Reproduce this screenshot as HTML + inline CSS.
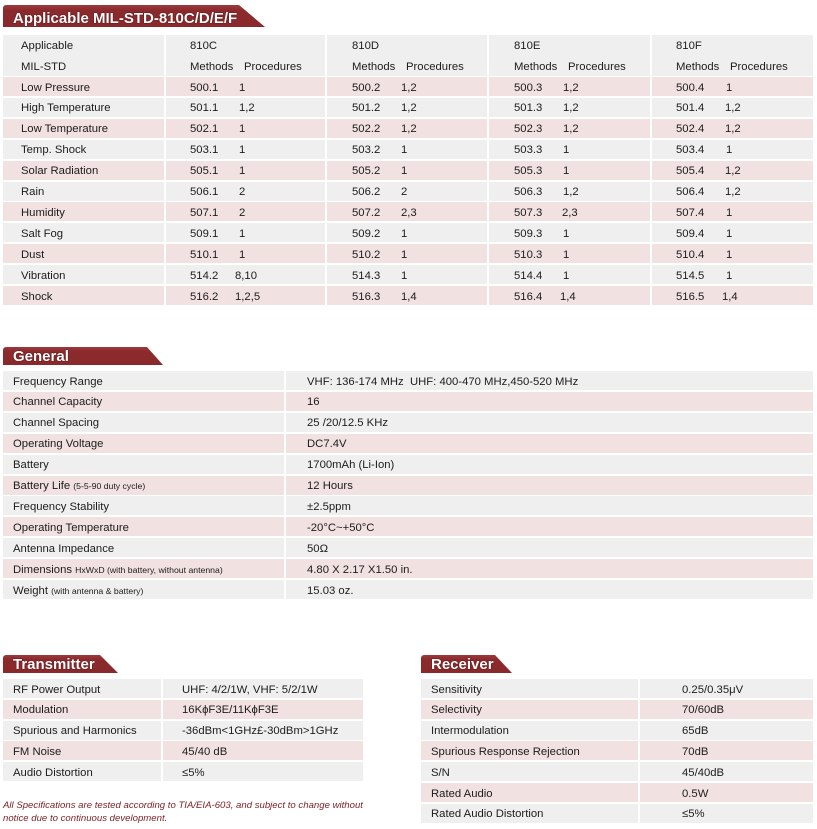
<!DOCTYPE html>
<html><head><meta charset="utf-8">
<style>
*{margin:0;padding:0;box-sizing:border-box}
html,body{width:817px;height:829px;background:#fff;overflow:hidden}
body{position:relative;font-family:"Liberation Sans",Arial,sans-serif;font-size:11.3px;color:#1c1c1c}
.c{position:absolute;height:19px}
.g{background:#efefef}
.p{background:#f1e1e1}
.t{position:absolute;white-space:nowrap;line-height:19px;height:19px;margin-top:1.5px}
.bn{position:absolute;background:linear-gradient(#9c3a3e 0,#8b2a2d 25%,#8a292c 100%);color:#fff;font-weight:bold;font-size:15px;white-space:nowrap;text-shadow:0 0 1px #4a0f12,0 0 1px #4a0f12;border-top-left-radius:3px}
.bn span{position:absolute;left:10px}
.sm{font-size:8.7px}
.fn{position:absolute;left:3px;font-style:italic;color:#7a1f24;font-size:9.6px;white-space:nowrap}
</style></head><body>

<!-- Banner 1 -->
<div class="bn" style="left:3px;top:5px;width:262px;height:22px;clip-path:polygon(0 0,236px 0,262px 22px,0 22px)"><span style="top:4px;line-height:19px">Applicable MIL-STD-810C/D/E/F</span></div>

<!-- Top table header -->
<div class="c g" style="left:3px;top:35px;width:161px;height:41px"></div>
<div class="c g" style="left:166px;top:35px;width:159px;height:41px"></div>
<div class="c g" style="left:327px;top:35px;width:160px;height:41px"></div>
<div class="c g" style="left:489px;top:35px;width:161px;height:41px"></div>
<div class="c g" style="left:652px;top:35px;width:161px;height:41px"></div>
<div class="t" style="left:21px;top:35.5px">Applicable</div>
<div class="t" style="left:21px;top:56.5px">MIL-STD</div>
<div class="t" style="left:190px;top:35.5px">810C</div>
<div class="t" style="left:352px;top:35.5px">810D</div>
<div class="t" style="left:514px;top:35.5px">810E</div>
<div class="t" style="left:676px;top:35.5px">810F</div>
<div class="t" style="left:190px;top:56.5px">Methods</div><div class="t" style="left:244px;top:56.5px">Procedures</div>
<div class="t" style="left:352px;top:56.5px">Methods</div><div class="t" style="left:406px;top:56.5px">Procedures</div>
<div class="t" style="left:514px;top:56.5px">Methods</div><div class="t" style="left:568px;top:56.5px">Procedures</div>
<div class="t" style="left:676px;top:56.5px">Methods</div><div class="t" style="left:730px;top:56.5px">Procedures</div>

<!-- rows -->
<div class="c p" style="left:3px;top:77px;width:161px"></div><div class="c p" style="left:166px;top:77px;width:159px"></div><div class="c p" style="left:327px;top:77px;width:160px"></div><div class="c p" style="left:489px;top:77px;width:161px"></div><div class="c p" style="left:652px;top:77px;width:161px"></div>
<div class="t" style="left:21px;top:77px">Low Pressure</div><div class="t" style="left:190px;top:77px">500.1</div><div class="t" style="left:239px;top:77px">1</div><div class="t" style="left:352px;top:77px">500.2</div><div class="t" style="left:401px;top:77px">1,2</div><div class="t" style="left:514px;top:77px">500.3</div><div class="t" style="left:563px;top:77px">1,2</div><div class="t" style="left:676px;top:77px">500.4</div><div class="t" style="left:726px;top:77px">1</div>

<div class="c g" style="left:3px;top:97.9px;width:161px"></div><div class="c g" style="left:166px;top:97.9px;width:159px"></div><div class="c g" style="left:327px;top:97.9px;width:160px"></div><div class="c g" style="left:489px;top:97.9px;width:161px"></div><div class="c g" style="left:652px;top:97.9px;width:161px"></div>
<div class="t" style="left:21px;top:97.9px">High Temperature</div><div class="t" style="left:190px;top:97.9px">501.1</div><div class="t" style="left:239px;top:97.9px">1,2</div><div class="t" style="left:352px;top:97.9px">501.2</div><div class="t" style="left:401px;top:97.9px">1,2</div><div class="t" style="left:514px;top:97.9px">501.3</div><div class="t" style="left:563px;top:97.9px">1,2</div><div class="t" style="left:676px;top:97.9px">501.4</div><div class="t" style="left:725px;top:97.9px">1,2</div>

<div class="c p" style="left:3px;top:118.8px;width:161px"></div><div class="c p" style="left:166px;top:118.8px;width:159px"></div><div class="c p" style="left:327px;top:118.8px;width:160px"></div><div class="c p" style="left:489px;top:118.8px;width:161px"></div><div class="c p" style="left:652px;top:118.8px;width:161px"></div>
<div class="t" style="left:21px;top:118.8px">Low Temperature</div><div class="t" style="left:190px;top:118.8px">502.1</div><div class="t" style="left:239px;top:118.8px">1</div><div class="t" style="left:352px;top:118.8px">502.2</div><div class="t" style="left:401px;top:118.8px">1,2</div><div class="t" style="left:514px;top:118.8px">502.3</div><div class="t" style="left:563px;top:118.8px">1,2</div><div class="t" style="left:676px;top:118.8px">502.4</div><div class="t" style="left:725px;top:118.8px">1,2</div>

<div class="c g" style="left:3px;top:139.7px;width:161px"></div><div class="c g" style="left:166px;top:139.7px;width:159px"></div><div class="c g" style="left:327px;top:139.7px;width:160px"></div><div class="c g" style="left:489px;top:139.7px;width:161px"></div><div class="c g" style="left:652px;top:139.7px;width:161px"></div>
<div class="t" style="left:21px;top:139.7px">Temp. Shock</div><div class="t" style="left:190px;top:139.7px">503.1</div><div class="t" style="left:239px;top:139.7px">1</div><div class="t" style="left:352px;top:139.7px">503.2</div><div class="t" style="left:401px;top:139.7px">1</div><div class="t" style="left:514px;top:139.7px">503.3</div><div class="t" style="left:563px;top:139.7px">1</div><div class="t" style="left:676px;top:139.7px">503.4</div><div class="t" style="left:726px;top:139.7px">1</div>

<div class="c p" style="left:3px;top:160.6px;width:161px"></div><div class="c p" style="left:166px;top:160.6px;width:159px"></div><div class="c p" style="left:327px;top:160.6px;width:160px"></div><div class="c p" style="left:489px;top:160.6px;width:161px"></div><div class="c p" style="left:652px;top:160.6px;width:161px"></div>
<div class="t" style="left:21px;top:160.6px">Solar Radiation</div><div class="t" style="left:190px;top:160.6px">505.1</div><div class="t" style="left:239px;top:160.6px">1</div><div class="t" style="left:352px;top:160.6px">505.2</div><div class="t" style="left:401px;top:160.6px">1</div><div class="t" style="left:514px;top:160.6px">505.3</div><div class="t" style="left:563px;top:160.6px">1</div><div class="t" style="left:676px;top:160.6px">505.4</div><div class="t" style="left:725px;top:160.6px">1,2</div>

<div class="c g" style="left:3px;top:181.5px;width:161px"></div><div class="c g" style="left:166px;top:181.5px;width:159px"></div><div class="c g" style="left:327px;top:181.5px;width:160px"></div><div class="c g" style="left:489px;top:181.5px;width:161px"></div><div class="c g" style="left:652px;top:181.5px;width:161px"></div>
<div class="t" style="left:21px;top:181.5px">Rain</div><div class="t" style="left:190px;top:181.5px">506.1</div><div class="t" style="left:239px;top:181.5px">2</div><div class="t" style="left:352px;top:181.5px">506.2</div><div class="t" style="left:401px;top:181.5px">2</div><div class="t" style="left:514px;top:181.5px">506.3</div><div class="t" style="left:563px;top:181.5px">1,2</div><div class="t" style="left:676px;top:181.5px">506.4</div><div class="t" style="left:725px;top:181.5px">1,2</div>

<div class="c p" style="left:3px;top:202.4px;width:161px"></div><div class="c p" style="left:166px;top:202.4px;width:159px"></div><div class="c p" style="left:327px;top:202.4px;width:160px"></div><div class="c p" style="left:489px;top:202.4px;width:161px"></div><div class="c p" style="left:652px;top:202.4px;width:161px"></div>
<div class="t" style="left:21px;top:202.4px">Humidity</div><div class="t" style="left:190px;top:202.4px">507.1</div><div class="t" style="left:239px;top:202.4px">2</div><div class="t" style="left:352px;top:202.4px">507.2</div><div class="t" style="left:401px;top:202.4px">2,3</div><div class="t" style="left:514px;top:202.4px">507.3</div><div class="t" style="left:562px;top:202.4px">2,3</div><div class="t" style="left:676px;top:202.4px">507.4</div><div class="t" style="left:726px;top:202.4px">1</div>

<div class="c g" style="left:3px;top:223.3px;width:161px"></div><div class="c g" style="left:166px;top:223.3px;width:159px"></div><div class="c g" style="left:327px;top:223.3px;width:160px"></div><div class="c g" style="left:489px;top:223.3px;width:161px"></div><div class="c g" style="left:652px;top:223.3px;width:161px"></div>
<div class="t" style="left:21px;top:223.3px">Salt Fog</div><div class="t" style="left:190px;top:223.3px">509.1</div><div class="t" style="left:239px;top:223.3px">1</div><div class="t" style="left:352px;top:223.3px">509.2</div><div class="t" style="left:401px;top:223.3px">1</div><div class="t" style="left:514px;top:223.3px">509.3</div><div class="t" style="left:563px;top:223.3px">1</div><div class="t" style="left:676px;top:223.3px">509.4</div><div class="t" style="left:726px;top:223.3px">1</div>

<div class="c p" style="left:3px;top:244.2px;width:161px"></div><div class="c p" style="left:166px;top:244.2px;width:159px"></div><div class="c p" style="left:327px;top:244.2px;width:160px"></div><div class="c p" style="left:489px;top:244.2px;width:161px"></div><div class="c p" style="left:652px;top:244.2px;width:161px"></div>
<div class="t" style="left:21px;top:244.2px">Dust</div><div class="t" style="left:190px;top:244.2px">510.1</div><div class="t" style="left:239px;top:244.2px">1</div><div class="t" style="left:352px;top:244.2px">510.2</div><div class="t" style="left:401px;top:244.2px">1</div><div class="t" style="left:514px;top:244.2px">510.3</div><div class="t" style="left:563px;top:244.2px">1</div><div class="t" style="left:676px;top:244.2px">510.4</div><div class="t" style="left:726px;top:244.2px">1</div>

<div class="c g" style="left:3px;top:265.1px;width:161px"></div><div class="c g" style="left:166px;top:265.1px;width:159px"></div><div class="c g" style="left:327px;top:265.1px;width:160px"></div><div class="c g" style="left:489px;top:265.1px;width:161px"></div><div class="c g" style="left:652px;top:265.1px;width:161px"></div>
<div class="t" style="left:21px;top:265.1px">Vibration</div><div class="t" style="left:190px;top:265.1px">514.2</div><div class="t" style="left:235px;top:265.1px">8,10</div><div class="t" style="left:352px;top:265.1px">514.3</div><div class="t" style="left:401px;top:265.1px">1</div><div class="t" style="left:514px;top:265.1px">514.4</div><div class="t" style="left:563px;top:265.1px">1</div><div class="t" style="left:676px;top:265.1px">514.5</div><div class="t" style="left:726px;top:265.1px">1</div>

<div class="c p" style="left:3px;top:286px;width:161px"></div><div class="c p" style="left:166px;top:286px;width:159px"></div><div class="c p" style="left:327px;top:286px;width:160px"></div><div class="c p" style="left:489px;top:286px;width:161px"></div><div class="c p" style="left:652px;top:286px;width:161px"></div>
<div class="t" style="left:21px;top:286px">Shock</div><div class="t" style="left:190px;top:286px">516.2</div><div class="t" style="left:235px;top:286px">1,2,5</div><div class="t" style="left:352px;top:286px">516.3</div><div class="t" style="left:401px;top:286px">1,4</div><div class="t" style="left:514px;top:286px">516.4</div><div class="t" style="left:560px;top:286px">1,4</div><div class="t" style="left:676px;top:286px">516.5</div><div class="t" style="left:722px;top:286px">1,4</div>

<!-- General -->
<div class="bn" style="left:3px;top:347px;width:160px;height:18px;clip-path:polygon(0 0,144px 0,160px 18px,0 18px)"><span style="top:1px;line-height:18px">General</span></div>

<div class="c g" style="left:3px;top:371px;width:281px"></div><div class="c g" style="left:286px;top:371px;width:527px"></div>
<div class="t" style="left:13px;top:371px">Frequency Range</div><div class="t" style="left:307px;top:371px">VHF: 136-174 MHz&nbsp; UHF: 400-470 MHz,450-520 MHz</div>

<div class="c p" style="left:3px;top:391.9px;width:281px"></div><div class="c p" style="left:286px;top:391.9px;width:527px"></div>
<div class="t" style="left:13px;top:391.9px">Channel Capacity</div><div class="t" style="left:307px;top:391.9px">16</div>

<div class="c g" style="left:3px;top:412.8px;width:281px"></div><div class="c g" style="left:286px;top:412.8px;width:527px"></div>
<div class="t" style="left:13px;top:412.8px">Channel Spacing</div><div class="t" style="left:307px;top:412.8px">25 /20/12.5 KHz</div>

<div class="c p" style="left:3px;top:433.7px;width:281px"></div><div class="c p" style="left:286px;top:433.7px;width:527px"></div>
<div class="t" style="left:13px;top:433.7px">Operating Voltage</div><div class="t" style="left:307px;top:433.7px">DC7.4V</div>

<div class="c g" style="left:3px;top:454.6px;width:281px"></div><div class="c g" style="left:286px;top:454.6px;width:527px"></div>
<div class="t" style="left:13px;top:454.6px">Battery</div><div class="t" style="left:307px;top:454.6px">1700mAh (Li-Ion)</div>

<div class="c p" style="left:3px;top:475.5px;width:281px"></div><div class="c p" style="left:286px;top:475.5px;width:527px"></div>
<div class="t" style="left:13px;top:475.5px">Battery Life <span class="sm">(5-5-90 duty cycle)</span></div><div class="t" style="left:307px;top:475.5px">12 Hours</div>

<div class="c g" style="left:3px;top:496.4px;width:281px"></div><div class="c g" style="left:286px;top:496.4px;width:527px"></div>
<div class="t" style="left:13px;top:496.4px">Frequency Stability</div><div class="t" style="left:307px;top:496.4px">±2.5ppm</div>

<div class="c p" style="left:3px;top:517.3px;width:281px"></div><div class="c p" style="left:286px;top:517.3px;width:527px"></div>
<div class="t" style="left:13px;top:517.3px">Operating Temperature</div><div class="t" style="left:307px;top:517.3px">-20°C~+50°C</div>

<div class="c g" style="left:3px;top:538.2px;width:281px"></div><div class="c g" style="left:286px;top:538.2px;width:527px"></div>
<div class="t" style="left:13px;top:538.2px">Antenna Impedance</div><div class="t" style="left:307px;top:538.2px">50Ω</div>

<div class="c p" style="left:3px;top:559.1px;width:281px"></div><div class="c p" style="left:286px;top:559.1px;width:527px"></div>
<div class="t" style="left:13px;top:559.1px">Dimensions <span class="sm">HxWxD (with battery, without antenna)</span></div><div class="t" style="left:307px;top:559.1px">4.80 X 2.17 X1.50 in.</div>

<div class="c g" style="left:3px;top:580px;width:281px"></div><div class="c g" style="left:286px;top:580px;width:527px"></div>
<div class="t" style="left:13px;top:580px">Weight <span class="sm">(with antenna &amp; battery)</span></div><div class="t" style="left:307px;top:580px">15.03 oz.</div>

<!-- Transmitter -->
<div class="bn" style="left:3px;top:655px;width:115px;height:18px;clip-path:polygon(0 0,97px 0,115px 18px,0 18px)"><span style="top:1px;line-height:18px">Transmitter</span></div>

<div class="c g" style="left:3px;top:679px;width:158px"></div><div class="c g" style="left:163px;top:679px;width:200px"></div>
<div class="t" style="left:13px;top:679px">RF Power Output</div><div class="t" style="left:182px;top:679px">UHF: 4/2/1W, VHF: 5/2/1W</div>

<div class="c p" style="left:3px;top:699.8px;width:158px"></div><div class="c p" style="left:163px;top:699.8px;width:200px"></div>
<div class="t" style="left:13px;top:699.8px">Modulation</div><div class="t" style="left:182px;top:699.8px">16KϕF3E/11KϕF3E</div>

<div class="c g" style="left:3px;top:720.6px;width:158px"></div><div class="c g" style="left:163px;top:720.6px;width:200px"></div>
<div class="t" style="left:13px;top:720.6px">Spurious and Harmonics</div><div class="t" style="left:182px;top:720.6px">-36dBm&lt;1GHz£-30dBm&gt;1GHz</div>

<div class="c p" style="left:3px;top:741.4px;width:158px"></div><div class="c p" style="left:163px;top:741.4px;width:200px"></div>
<div class="t" style="left:13px;top:741.4px">FM Noise</div><div class="t" style="left:182px;top:741.4px">45/40 dB</div>

<div class="c g" style="left:3px;top:762.2px;width:158px"></div><div class="c g" style="left:163px;top:762.2px;width:200px"></div>
<div class="t" style="left:13px;top:762.2px">Audio Distortion</div><div class="t" style="left:182px;top:762.2px">≤5%</div>

<div class="fn" style="top:800px">All Specifications are tested according to TIA/EIA-603, and subject to change without</div>
<div class="fn" style="top:813px">notice due to continuous development.</div>

<!-- Receiver -->
<div class="bn" style="left:421px;top:655px;width:91px;height:18px;clip-path:polygon(0 0,74px 0,91px 18px,0 18px)"><span style="top:1px;line-height:18px">Receiver</span></div>

<div class="c g" style="left:421px;top:679px;width:217px"></div><div class="c g" style="left:640px;top:679px;width:173px"></div>
<div class="t" style="left:431px;top:679px">Sensitivity</div><div class="t" style="left:682px;top:679px">0.25/0.35μV</div>

<div class="c p" style="left:421px;top:699.8px;width:217px"></div><div class="c p" style="left:640px;top:699.8px;width:173px"></div>
<div class="t" style="left:431px;top:699.8px">Selectivity</div><div class="t" style="left:682px;top:699.8px">70/60dB</div>

<div class="c g" style="left:421px;top:720.6px;width:217px"></div><div class="c g" style="left:640px;top:720.6px;width:173px"></div>
<div class="t" style="left:431px;top:720.6px">Intermodulation</div><div class="t" style="left:682px;top:720.6px">65dB</div>

<div class="c p" style="left:421px;top:741.4px;width:217px"></div><div class="c p" style="left:640px;top:741.4px;width:173px"></div>
<div class="t" style="left:431px;top:741.4px">Spurious Response Rejection</div><div class="t" style="left:682px;top:741.4px">70dB</div>

<div class="c g" style="left:421px;top:762.2px;width:217px"></div><div class="c g" style="left:640px;top:762.2px;width:173px"></div>
<div class="t" style="left:431px;top:762.2px">S/N</div><div class="t" style="left:682px;top:762.2px">45/40dB</div>

<div class="c p" style="left:421px;top:783px;width:217px"></div><div class="c p" style="left:640px;top:783px;width:173px"></div>
<div class="t" style="left:431px;top:783px">Rated Audio</div><div class="t" style="left:682px;top:783px">0.5W</div>

<div class="c g" style="left:421px;top:803.8px;width:217px"></div><div class="c g" style="left:640px;top:803.8px;width:173px"></div>
<div class="t" style="left:431px;top:803.8px">Rated Audio Distortion</div><div class="t" style="left:682px;top:803.8px">≤5%</div>

</body></html>
